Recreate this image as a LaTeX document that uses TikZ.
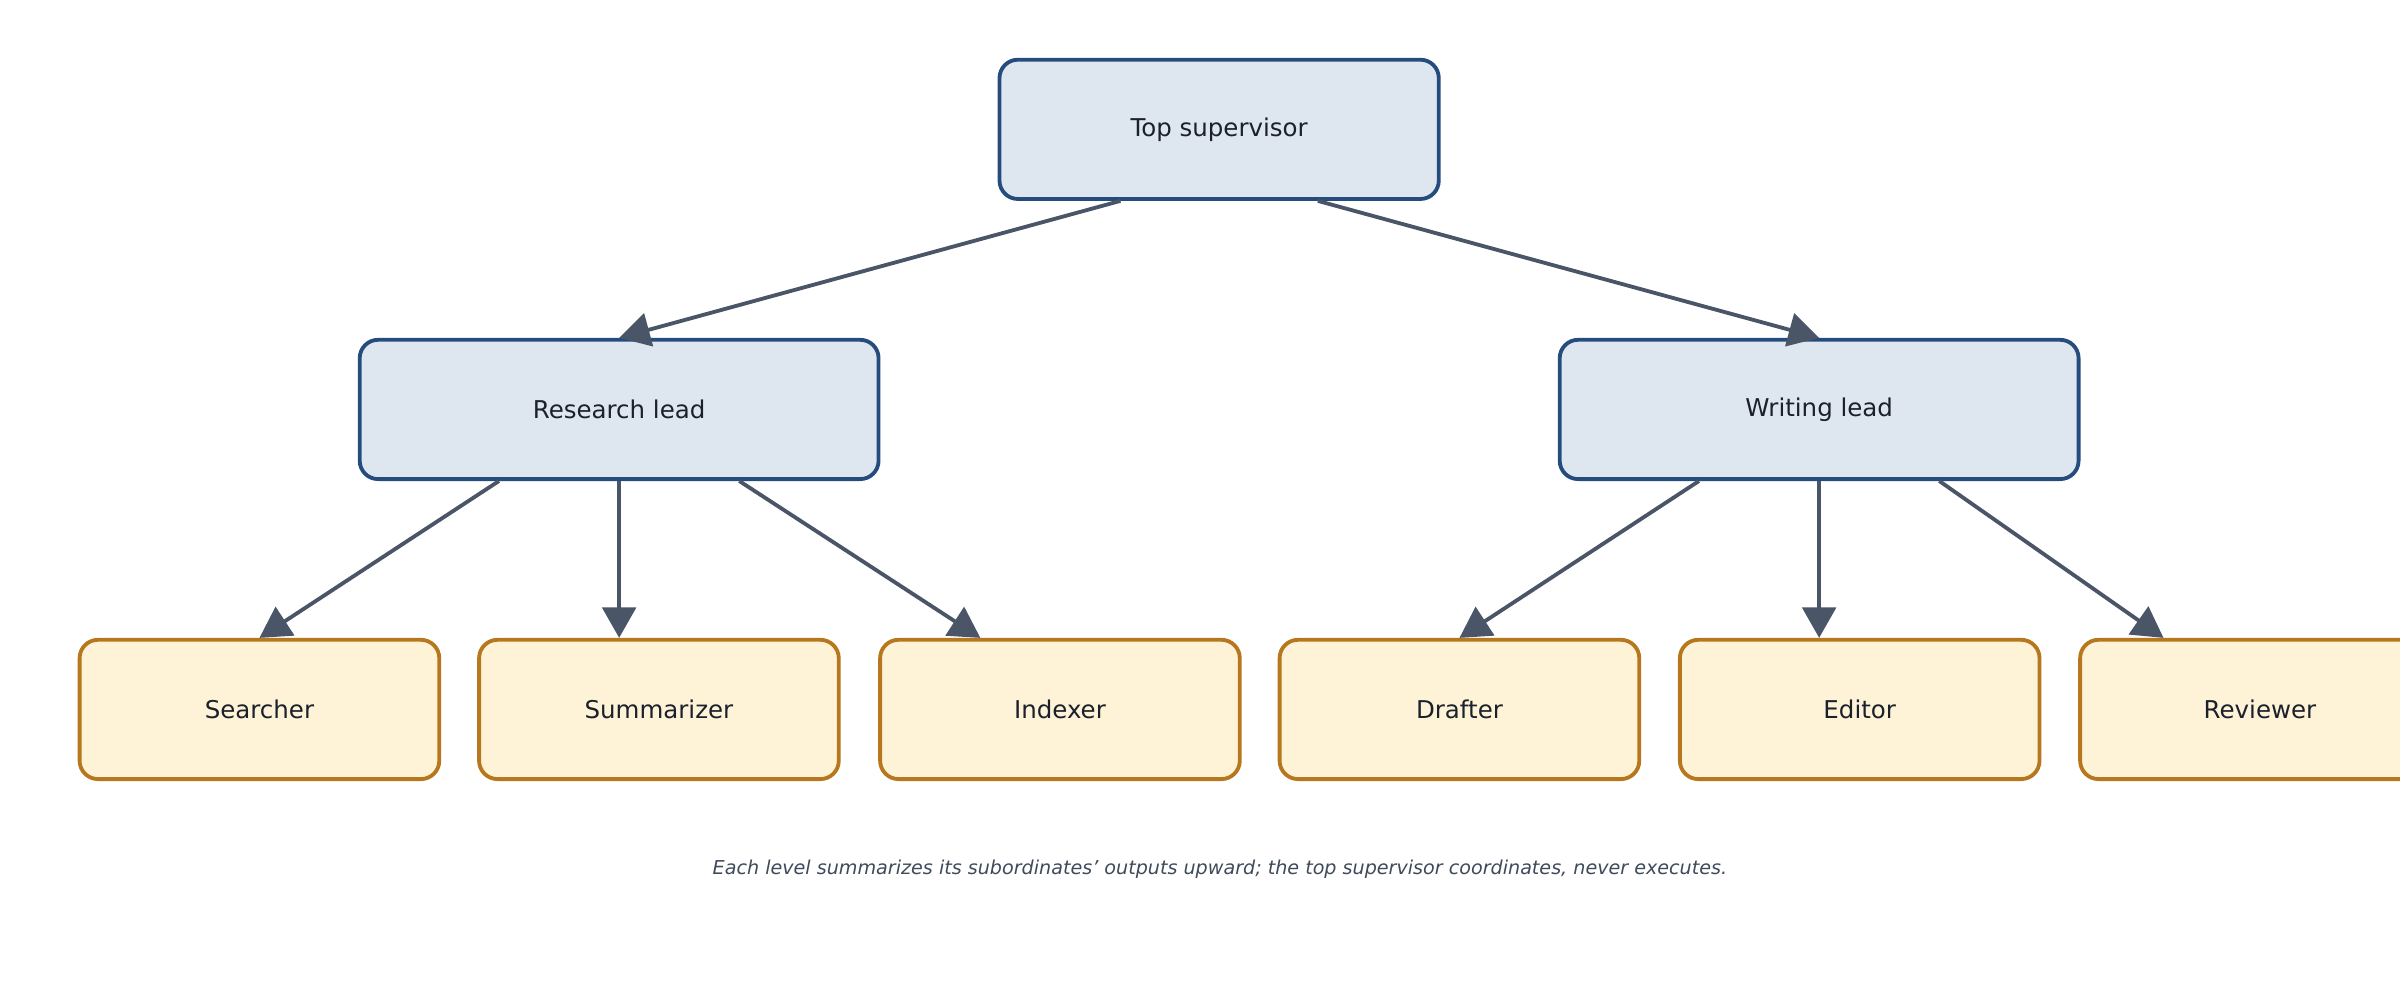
\documentclass[tikz,border=0pt]{standalone}
\usepackage{fontspec}
\setmainfont{DejaVu Sans}
\usetikzlibrary{arrows.meta,calc}
\definecolor{leadfill}{HTML}{DEE7F0}
\definecolor{leaddraw}{HTML}{264C7E}
\definecolor{workfill}{HTML}{FEF3D6}
\definecolor{workdraw}{HTML}{B7771F}
\definecolor{linkc}{HTML}{4A5568}
\definecolor{txt}{HTML}{1A202C}
\definecolor{note}{HTML}{3F4A5A}

\begin{document}
\begin{tikzpicture}[x=1pt,y=-1pt,
                    link/.style={-{Triangle[length=20pt,width=22pt]},draw=linkc,line width=2.5pt},
                    lead/.style={draw=leaddraw,fill=leadfill,line width=2.5pt,rounded corners=12pt,
                                 minimum width=339pt,minimum height=91pt,text=txt,font=\fontsize{16}{19}\selectfont},
                    work/.style={draw=workdraw,fill=workfill,line width=2.5pt,rounded corners=12pt,
                                 minimum width=235pt,minimum height=91pt,text=txt,font=\fontsize{16}{19}\selectfont}]
\useasboundingbox (0,0) rectangle (1568,653);

        \node[lead,minimum width=287pt] (top) at (796.5,84.5)  {Top supervisor};
        \node[lead]                     (res) at (404.5,267.5) {Research lead};
        \node[lead]                     (wri) at (1188.5,267.5){Writing lead};

        \node[work] (srch) at (169.5,463.5)  {Searcher};
        \node[work] (summ) at (430.5,463.5)  {Summarizer};
        \node[work] (indx) at (692.5,463.5)  {Indexer};
        \node[work] (draf) at (953.5,463.5)  {Drafter};
        \node[work] (edit) at (1215,463.5)   {Editor};
        \node[work] (revw) at (1476.5,463.5) {Reviewer};

        \node[text=note,font=\itshape\fontsize{12.5}{15}\selectfont] (cap) at (797,568)
            {Each level summarizes its subordinates' outputs upward; the top supervisor coordinates, never executes.};

        \draw[link] ($(top.south)+(-64.5,0)$) -- (res.north);
        \draw[link] ($(top.south)+(64.5,0)$)  -- (wri.north);
        \draw[link] ($(res.south)+(-78.5,0)$) -- (srch.north);
        \draw[link] (res.south)               -- ($(summ.north)+(-26,0)$);
        \draw[link] ($(res.south)+(78.5,0)$)  -- ($(indx.north)+(-52,0)$);
        \draw[link] ($(wri.south)+(-78.5,0)$) -- (draf.north);
        \draw[link] (wri.south)               -- ($(edit.north)+(-26.5,0)$);
        \draw[link] ($(wri.south)+(78.5,0)$)  -- ($(revw.north)+(-63,0)$);
\end{tikzpicture}
\end{document}
